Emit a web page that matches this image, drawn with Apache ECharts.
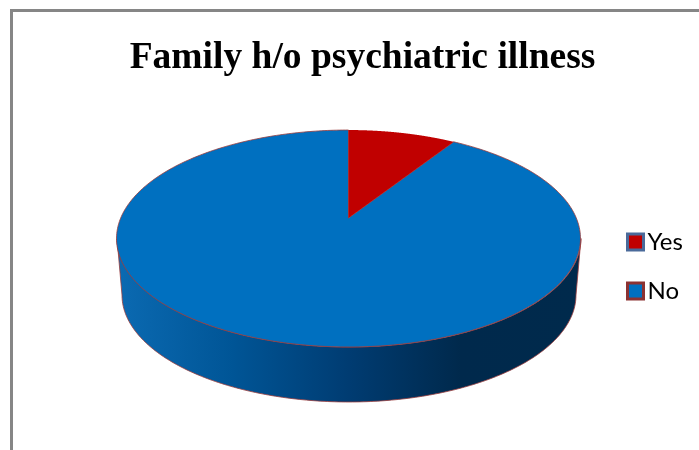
<!DOCTYPE html>
<html><head><meta charset="utf-8">
<style>html,body{margin:0;padding:0;background:#fff}#c{width:699px;height:450px}</style>
<script src="https://cdn.jsdelivr.net/npm/echarts@6/dist/echarts.min.js"></script>
</head><body><div id="c"></div>
<script>
const titleText = 'Family h/o psychiatric illness';
const categories = ['Yes', 'No'];
const values = [9, 91];
const colors = ['#c00000', '#0070c0'];
const legendBorders = ['#4a6a9a', '#8c3232'];
const edge = '#9a3c3c';

const total = values.reduce((a, b) => a + b, 0);
// perspective projection of the disc on to the page
const apex = { x: 348.5, y: 218 }, K = 0.189, A = 104.6, C = 227.8;
function project(theta) {
  const u = Math.sin(theta), v = Math.cos(theta), d = 1 + K * v;
  return [apex.x + C * u / d, apex.y - A * v / d];
}
function sectorPoints(i) {
  const before = values.slice(0, i).reduce((a, b) => a + b, 0);
  const a0 = before / total * 2 * Math.PI, a1 = (before + values[i]) / total * 2 * Math.PI;
  const pts = [[apex.x, apex.y]], n = 360;
  for (let k = 0; k <= n; k++) pts.push(project(a0 + (a1 - a0) * k / n));
  return pts;
}
function wallPoints() {
  const pts = [], n = 200;
  for (let k = 0; k <= n; k++) { const t = Math.PI * k / n; pts.push([349 + 232 * Math.cos(t), 238.5 + 108.5 * Math.sin(t)]); }
  for (let k = n; k >= 0; k--) { const t = Math.PI * k / n; pts.push([349 + 227 * Math.cos(t), 295 + 107 * Math.sin(t)]); }
  return pts;
}
function renderSlice(i) {
  return function () {
    const children = [];
    if (i === 1) children.push({
      type: 'polygon', shape: { points: wallPoints() },
      style: { stroke: edge, lineWidth: 0.8, fill: { type: 'linear', x: 0, y: 0, x2: 1, y2: 0, colorStops: [
        { offset: 0, color: '#0b6ab2' }, { offset: 0.25, color: '#005596' },
        { offset: 0.5, color: '#003c72' }, { offset: 0.74, color: '#00294c' }, { offset: 1, color: '#002a4c' }] } }
    });
    children.push({ type: 'polygon', shape: { points: sectorPoints(i) },
      style: { fill: colors[i], stroke: i === 1 ? edge : null, lineWidth: 0.8 } });
    return { type: 'group', children };
  };
}
const chart = echarts.init(document.getElementById('c'), null, { renderer: 'canvas' });
chart.setOption({
  animation: false,
  backgroundColor: '#fff',
  title: { text: titleText, left: 362.5, top: 39, textAlign: 'center', padding: 0,
    textStyle: { fontFamily: 'Liberation Serif', fontWeight: 'bold', fontSize: 37.5, color: '#000' } },
  legend: {
    orient: 'vertical', left: 626, top: 230, padding: 0, itemWidth: 16, itemHeight: 16, itemGap: 25, selectedMode: false,
    textStyle: { fontFamily: 'Lato', fontSize: 24, color: '#000', padding: [0, 0, 0, -1] },
    data: categories.map((name, i) => ({ name, icon: 'rect',
      itemStyle: { color: colors[i], borderColor: legendBorders[i], borderWidth: 3 } }))
  },
  graphic: [
    { type: 'line', shape: { x1: 10, y1: 10.5, x2: 699, y2: 10.5 }, style: { stroke: '#868686', lineWidth: 3 } },
    { type: 'line', shape: { x1: 11.5, y1: 9, x2: 11.5, y2: 450 }, style: { stroke: '#868686', lineWidth: 3 } }
  ],
  series: [1, 0].map(i => ({
    type: 'custom', name: categories[i], coordinateSystem: 'none', silent: true,
    itemStyle: { color: colors[i] },
    data: [values[i]], renderItem: renderSlice(i)
  }))
});
</script></body></html>
